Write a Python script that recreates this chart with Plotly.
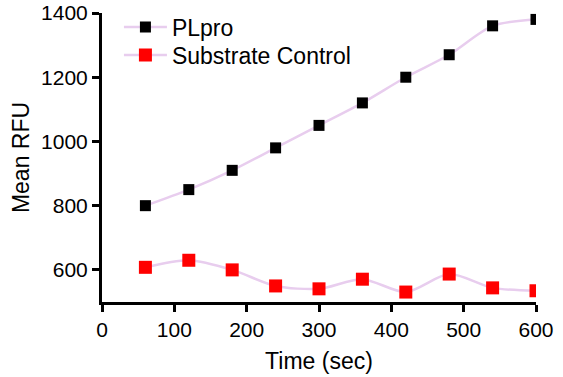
import plotly.graph_objects as go

time_sec = [60, 120, 180, 240, 300, 360, 420, 480, 540, 600]
plpro = [800, 850, 910, 980, 1050, 1120, 1200, 1270, 1360, 1380]
substrate_control = [608, 630, 600, 550, 541, 571, 531, 587, 544, 535]

x_ticks = [0, 100, 200, 300, 400, 500, 600]
y_ticks = [600, 800, 1000, 1200, 1400]

line_color = "#e8cdee"
fig = go.Figure()
fig.add_trace(go.Scatter(x=time_sec, y=plpro, name="PLpro", mode="lines+markers",
                         legend="legend", showlegend=True,
                         line=dict(color=line_color, width=2.5, shape="spline", smoothing=0.8),
                         marker=dict(symbol="square", color="black", size=11)))
fig.add_trace(go.Scatter(x=time_sec, y=substrate_control, name="Substrate Control", mode="lines+markers",
                         legend="legend2", showlegend=True,
                         line=dict(color=line_color, width=2.5, shape="spline", smoothing=0.8),
                         marker=dict(symbol="square", color="#ff0000", size=13)))

font = dict(family="Liberation Sans, Arial, sans-serif", size=21, color="black")
axis_common = dict(showgrid=False, zeroline=False, automargin=False,
                   showline=True, linecolor="black", linewidth=3, ticks="outside",
                   ticklen=7, tickwidth=3, tickcolor="black", ticklabeloverflow="allow")
legend_common = dict(x=0.039, xanchor="left", yanchor="middle", bgcolor="rgba(0,0,0,0)",
                     font=dict(size=23), itemwidth=43)
fig.update_layout(
    width=563, height=377,
    margin=dict(l=102, r=27, t=13, b=75, autoexpand=False),
    paper_bgcolor="white", plot_bgcolor="white",
    font=font, showlegend=True,
    legend=dict(y=0.9516, **legend_common),
    legend2=dict(y=0.8547, **legend_common),
    xaxis=dict(range=[0, 600], tickvals=x_ticks,
               title=dict(text="Time (sec)", standoff=13, font=dict(size=23)), **axis_common),
    yaxis=dict(range=[500, 1400], tickvals=y_ticks,
               title=dict(text="Mean RFU", standoff=6, font=dict(size=23)), **axis_common),
)
fig.write_html("out.html", config={"displayModeBar": False},
               post_script="document.body.style.margin='0px';")
